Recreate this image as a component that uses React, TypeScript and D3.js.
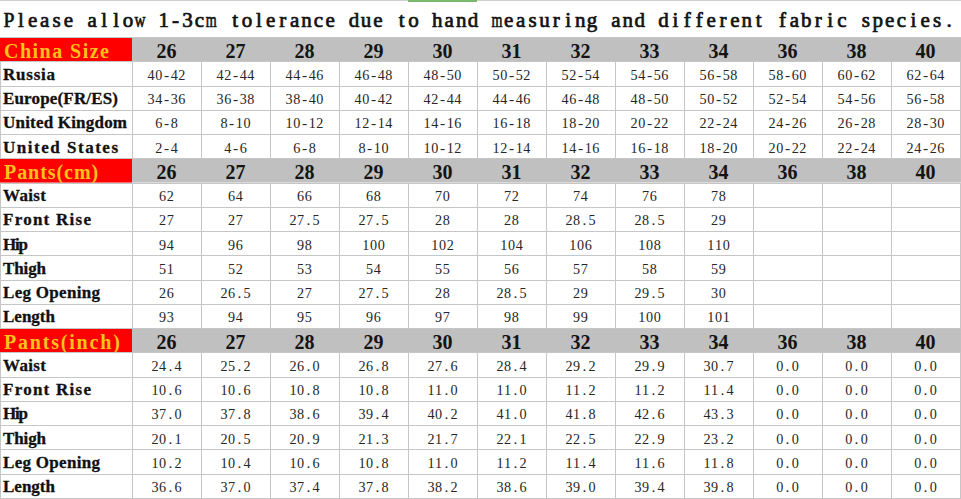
import React from 'react';
import * as d3 from 'd3';

const W = 961;
const H = 499;

const title = 'Please allow 1-3cm tolerance due to hand measuring and different fabric species.';
const sizes = ['26', '27', '28', '29', '30', '31', '32', '33', '34', '36', '38', '40'];

const intlLabels = ['Russia', 'Europe(FR/ES)', 'United Kingdom', 'United States'];
const russia = ['40-42', '42-44', '44-46', '46-48', '48-50', '50-52', '52-54', '54-56', '56-58', '58-60', '60-62', '62-64'];
const europe = ['34-36', '36-38', '38-40', '40-42', '42-44', '44-46', '46-48', '48-50', '50-52', '52-54', '54-56', '56-58'];
const unitedKingdom = ['6-8', '8-10', '10-12', '12-14', '14-16', '16-18', '18-20', '20-22', '22-24', '24-26', '26-28', '28-30'];
const unitedStates = ['2-4', '4-6', '6-8', '8-10', '10-12', '12-14', '14-16', '16-18', '18-20', '20-22', '22-24', '24-26'];

const measureLabels = ['Waist', 'Front Rise', 'Hip', 'Thigh', 'Leg Opening', 'Length'];
const cmWaist = [62, 64, 66, 68, 70, 72, 74, 76, 78, null, null, null];
const cmFrontRise = [27, 27, 27.5, 27.5, 28, 28, 28.5, 28.5, 29, null, null, null];
const cmHip = [94, 96, 98, 100, 102, 104, 106, 108, 110, null, null, null];
const cmThigh = [51, 52, 53, 54, 55, 56, 57, 58, 59, null, null, null];
const cmLegOpening = [26, 26.5, 27, 27.5, 28, 28.5, 29, 29.5, 30, null, null, null];
const cmLength = [93, 94, 95, 96, 97, 98, 99, 100, 101, null, null, null];

const inWaist = [24.4, 25.2, 26.0, 26.8, 27.6, 28.4, 29.2, 29.9, 30.7, 0, 0, 0];
const inFrontRise = [10.6, 10.6, 10.8, 10.8, 11.0, 11.0, 11.2, 11.2, 11.4, 0, 0, 0];
const inHip = [37.0, 37.8, 38.6, 39.4, 40.2, 41.0, 41.8, 42.6, 43.3, 0, 0, 0];
const inThigh = [20.1, 20.5, 20.9, 21.3, 21.7, 22.1, 22.5, 22.9, 23.2, 0, 0, 0];
const inLegOpening = [10.2, 10.4, 10.6, 10.8, 11.0, 11.2, 11.4, 11.6, 11.8, 0, 0, 0];
const inLength = [36.6, 37.0, 37.4, 37.8, 38.2, 38.6, 39.0, 39.4, 39.8, 0, 0, 0];

type Row =
  | { kind: 'head'; label: string }
  | { kind: 'data'; label: string; cells: string[] };

const fmtCm = (v: number | null) => (v == null ? '' : String(v));
const fmtIn = (v: number | null) => (v == null ? '' : d3.format('.1f')(v));

const rows: Row[] = [
  { kind: 'head', label: 'China Size' },
  ...[russia, europe, unitedKingdom, unitedStates].map((c, i) => ({ kind: 'data' as const, label: intlLabels[i], cells: c })),
  { kind: 'head', label: 'Pants(cm)' },
  ...[cmWaist, cmFrontRise, cmHip, cmThigh, cmLegOpening, cmLength].map((c, i) => ({
    kind: 'data' as const, label: measureLabels[i], cells: c.map(fmtCm),
  })),
  { kind: 'head', label: 'Pants(inch)' },
  ...[inWaist, inFrontRise, inHip, inThigh, inLegOpening, inLength].map((c, i) => ({
    kind: 'data' as const, label: measureLabels[i], cells: c.map(fmtIn),
  })),
];

const LABEL_W = 132;
const TOP = 37;
const GRID = '#c6c6c6';
const SERIF = 'Liberation Serif';

const x = d3.scaleBand<string>().domain(sizes).range([LABEL_W, 960]);
const y = d3.scaleBand<number>().domain(d3.range(rows.length)).range([TOP, 498]);

// canvas for measuring glyphs, so wide ones can be squeezed into a fixed cell
const ctx = typeof document !== 'undefined' ? document.createElement('canvas').getContext('2d') : null;
const measure = (ch: string, font: string) => {
  if (!ctx) return 0;
  ctx.font = font;
  return ctx.measureText(ch).width;
};

interface MonoProps {
  text: string;
  x: number; // left edge, or centre when centred
  y: number;
  cell: number;
  size: number;
  weight?: string;
  fill: string;
  centred?: boolean;
  stroke?: number;
}

// draws a proportional serif as if it were a half-width monospace (SimSun-like)
const MonoText: React.FC<MonoProps> = ({ text, x: x0, y: y0, cell, size, weight = 'normal', fill, centred, stroke }) => {
  const start = centred ? x0 - (text.length * cell) / 2 : x0;
  const font = `${weight} ${size}px "${SERIF}"`;
  return (
    <g fontFamily={SERIF} fontSize={size} fontWeight={weight} fill={fill}
      stroke={stroke ? fill : undefined} strokeWidth={stroke}>
      {text.split('').map((ch, k) => {
        if (ch === ' ') return null;
        const w = measure(ch, font);
        const squeeze = w > cell * 0.92;
        return (
          <text key={k} x={start + (k + 0.5) * cell} y={y0} textAnchor="middle"
            textLength={squeeze ? cell * 0.92 : undefined}
            lengthAdjust={squeeze ? 'spacingAndGlyphs' : undefined}>{ch}</text>
        );
      })}
    </g>
  );
};

const App: React.FC = () => {
  const rh = y.bandwidth();
  const cw = x.bandwidth();
  return (
    <svg width={W} height={H} style={{ position: 'absolute', left: 0, top: 0, background: '#fff' }}>
      <rect x={0} y={0} width={W} height={H} fill="#ffffff" />
      <line x1={0} x2={W} y1={0.5} y2={0.5} stroke="#d0d0d0" />
      <rect x={408} y={0} width={69} height={2} fill="#7ab86a" />
      <MonoText text={title} x={3} y={27} cell={11.9} size={21} fill="#111" stroke={0.7} />

      {rows.map((r, i) => {
        const y0 = y(i)!;
        if (r.kind === 'head') {
          return (
            <g key={i}>
              <rect x={LABEL_W} y={y0} width={960 - LABEL_W + 1} height={rh} fill="#c0c0c0" />
              <rect x={0} y={y0} width={LABEL_W} height={rh} fill="#fe0000" />
              <text x={4} y={y0 + 20.5} fontFamily={SERIF} fontWeight="bold" fontSize={20}
                textLength={r.label.length * 10.8 - 3} lengthAdjust="spacing" fill="#ffc21a">{r.label}</text>
              {sizes.map(s => (
                <text key={s} x={x(s)! + cw / 2} y={y0 + 20.5} textAnchor="middle"
                  fontFamily={SERIF} fontWeight="bold" fontSize={20} fill="#141414">{s}</text>
              ))}
            </g>
          );
        }
        return (
          <g key={i}>
            <text x={3} y={y0 + 18.5} fontFamily={SERIF} fontWeight="bold" fontSize={17}
              textLength={r.label.length * 9 - 2} lengthAdjust="spacing" fill="#111"
              stroke="#111" strokeWidth={0.3}>{r.label}</text>
            {r.cells.map((c, j) => c && (
              <MonoText key={j} text={c} x={x(sizes[j])! + cw / 2} y={y0 + 18.5} cell={7.7}
                size={15.5} fill="#262626" centred />
            ))}
          </g>
        );
      })}

      {/* grid */}
      <g stroke={GRID} strokeWidth={1} shapeRendering="crispEdges">
        {d3.range(rows.length + 1).map(i => {
          const yy = i < rows.length ? y(i)! : 498;
          return <line key={'h' + i} x1={0} x2={W} y1={Math.round(yy) + 0.5} y2={Math.round(yy) + 0.5} />;
        })}
        {rows.map((r, i) => r.kind === 'data' && (
          <g key={'v' + i}>
            {[0, ...sizes.map(s => x(s)!), 960].map((xx, k) => (
              <line key={k} x1={Math.round(xx) + 0.5} x2={Math.round(xx) + 0.5}
                y1={Math.round(y(i)!)} y2={Math.round(y(i)! + rh) + 1} />
            ))}
          </g>
        ))}
      </g>
    </svg>
  );
};

export default App;
